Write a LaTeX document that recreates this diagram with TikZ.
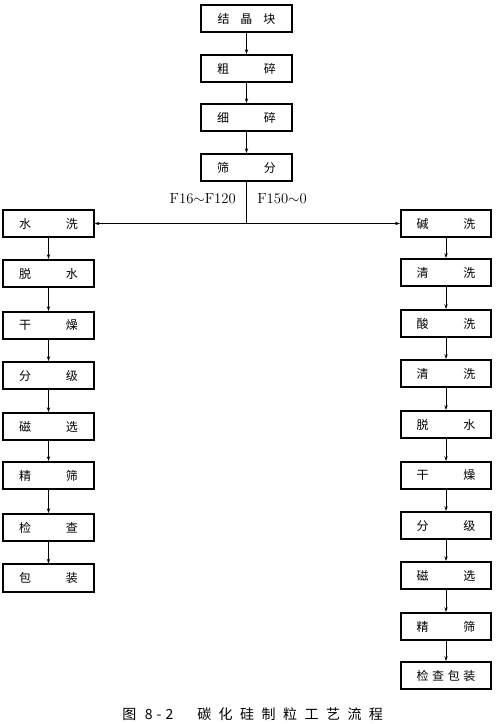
\documentclass[tikz,border=0pt]{standalone}
\usepackage{fontspec}
\newfontfamily\cjk{Noto Sans CJK SC}
\usetikzlibrary{arrows.meta}
\tikzset{
  box/.style={draw, line width=1.3pt, rectangle, minimum width=68pt, minimum height=20.5pt, inner sep=0pt, font=\cjk\fontsize{9}{10}\selectfont},
  conn/.style={line width=0.7pt, -{Stealth[length=3.5pt,width=2.5pt]}},
  lbl/.style={font=\fontsize{11}{12}\selectfont, inner sep=0pt},
  captext/.style={font=\cjk\fontsize{10.5}{12}\selectfont, inner sep=0pt, anchor=west},
}
\newcommand{\two}[2]{#1\hspace{2.9em}#2}
\newcommand{\csp}{\hspace{5.6pt}}
\begin{document}
\begin{tikzpicture}[x=0.75pt,y=-0.75pt]
\useasboundingbox (0,0) rectangle (496,724);
% top column
\node[box] (t1) at (246.5,18.5) {结\hspace{0.9em}晶\hspace{0.9em}块};
\node[box] (t2) at (246.5,68.5) {\two{粗}{碎}};
\node[box] (t3) at (246.5,117.5) {\two{细}{碎}};
\node[box] (t4) at (246.5,167.5) {\two{筛}{分}};
% left column
\node[box] (l1) at (48.5,223.5) {\two{水}{洗}};
\node[box] (l2) at (48.5,273.5) {\two{脱}{水}};
\node[box] (l3) at (48.5,325.5) {\two{干}{燥}};
\node[box] (l4) at (48.5,375.5) {\two{分}{级}};
\node[box] (l5) at (48.5,426.5) {\two{磁}{选}};
\node[box] (l6) at (48.5,475.5) {\two{精}{筛}};
\node[box] (l7) at (48.5,527.5) {\two{检}{查}};
\node[box] (l8) at (48.5,578) {\two{包}{装}};
% right column
\node[box] (r1) at (446,223.5) {\two{碱}{洗}};
\node[box] (r2) at (446,272.5) {\two{清}{洗}};
\node[box] (r3) at (446,323.5) {\two{酸}{洗}};
\node[box] (r4) at (446,373.5) {\two{清}{洗}};
\node[box] (r5) at (446,424.5) {\two{脱}{水}};
\node[box] (r6) at (446,475.5) {\two{干}{燥}};
\node[box] (r7) at (446,525.5) {\two{分}{级}};
\node[box] (r8) at (446,575.5) {\two{磁}{选}};
\node[box] (r9) at (446,626.5) {\two{精}{筛}};
\node[box] (r10) at (446,675.5) {检\hspace{0.3em}查\hspace{0.3em}包\hspace{0.3em}装};
% junction
\coordinate (j) at (246.5,223.5);
\node[lbl, anchor=east] (fa) at (236,199) {F16$\sim$F120};
\node[lbl, anchor=west] (fb) at (257,199) {F150$\sim$0};
% connectors
\draw[conn] (t1) -- (t2);
\draw[conn] (t2) -- (t3);
\draw[conn] (t3) -- (t4);
\draw[line width=0.7pt] (t4.south) -- (j);
\draw[conn] (j) -- (l1.east);
\draw[conn] (j) -- (r1.west);
\foreach \a/\b in {l1/l2,l2/l3,l3/l4,l4/l5,l5/l6,l6/l7,l7/l8,r1/r2,r2/r3,r3/r4,r4/r5,r5/r6,r6/r7,r7/r8,r8/r9,r9/r10}
  \draw[conn] (\a) -- (\b);
% caption
\node[captext] (cap1) at (122,714) {图\hspace{6.5pt}8\hspace{3pt}-\hspace{3pt}2};
\node[captext] (cap2) at (197,714) {碳\csp 化\csp 硅\csp 制\csp 粒\csp 工\csp 艺\csp 流\csp 程};
\end{tikzpicture}
\end{document}
